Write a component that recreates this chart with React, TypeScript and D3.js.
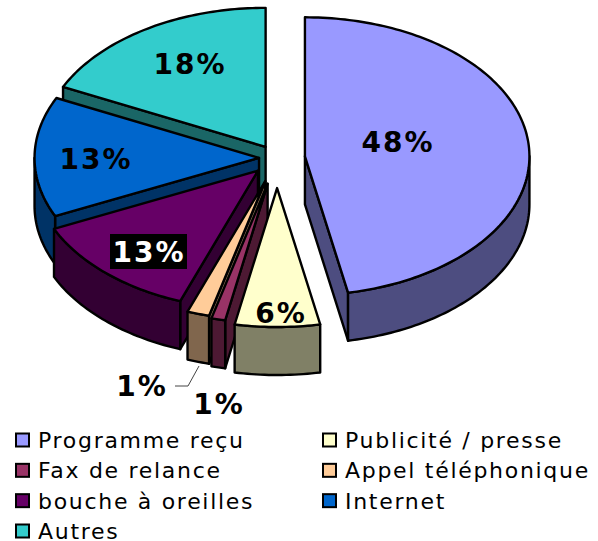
import React from "react";
import * as d3 from "d3";

const categories = ["Programme reçu", "Publicité / presse", "Fax de relance", "Appel téléphonique", "bouche à oreilles", "Internet", "Autres"];
const values = [46.9, 6.1, 1.0, 1.6, 12.5, 13.95, 17.9];
const shownLabels = ["48%", "6%", "1%", "1%", "13%", "13%", "18%"];
const topColors = ["#9999FF", "#FFFFCC", "#993366", "#FFCC99", "#660066", "#0066CC", "#33CCCC"];
const sideColors = ["#4D4D80", "#808066", "#4D1933", "#80664D", "#330033", "#003366", "#1A6666"];
const explode = [0.125, 0.216, 0.19, 0.175, 0.125, 0.08, 0.095];
const drawOrder = [6, 5, 4, 3, 2, 1, 0];
const labelPos: [number, number][] = [[398, 142], [281, 313], [219, 404], [142, 386], [149, 252], [96, 159], [190, 64]];

const W = 598, H = 541;
const cx = 277, cy = 158, rx = 224.5, ry = 139, depth = 48;
const TAU = Math.PI * 2;
const FONT = "'DejaVu Sans', Verdana, sans-serif";

type Pt = [number, number];
const lineGen = d3.line<Pt>().x(d => d[0]).y(d => d[1]);

function samples(a0: number, a1: number): number[] {
  const n = Math.max(2, Math.ceil(Math.abs(a1 - a0) / 0.02));
  return d3.range(n + 1).map(i => a0 + ((a1 - a0) * i) / n);
}

export default function App() {
  const arcs = d3.pie<number>().sort(null).value(d => d)(values);

  const slices = arcs.map((a, i) => {
    const mid = (a.startAngle + a.endAngle) / 2;
    const ax = cx + explode[i] * rx * Math.sin(mid);
    const ay = cy - explode[i] * ry * Math.cos(mid);
    const p = (t: number, dz = 0): Pt => [ax + rx * Math.sin(t), ay - ry * Math.cos(t) + dz];
    const apex: Pt = [ax, ay];
    const apexLow: Pt = [ax, ay + depth];
    const top = [apex, ...samples(a.startAngle, a.endAngle).map(t => p(t))];
    const walls: string[] = [];
    if (a.startAngle > Math.PI && a.startAngle < TAU) {
      walls.push(lineGen([apex, p(a.startAngle), p(a.startAngle, depth), apexLow])! + "Z");
    }
    if (a.endAngle > 0 && a.endAngle < Math.PI) {
      walls.push(lineGen([apex, p(a.endAngle), p(a.endAngle, depth), apexLow])! + "Z");
    }
    const o0 = Math.max(a.startAngle, Math.PI / 2);
    const o1 = Math.min(a.endAngle, (3 * Math.PI) / 2);
    if (o1 > o0) {
      const s = samples(o0, o1);
      walls.push(lineGen([...s.map(t => p(t)), ...s.slice().reverse().map(t => p(t, depth))])! + "Z");
    }
    return { i, walls, top: lineGen(top)! + "Z" };
  });

  const legendX = d3.scaleOrdinal<number, number>().domain([0, 1]).range([16, 323]);
  const legendY = d3.scaleLinear().domain([0, 3]).range([440, 531]);

  return (
    <svg width={W} height={H} style={{ position: "absolute", left: 0, top: 0, background: "#fff" }} fontFamily={FONT}>
      {drawOrder.map(k => {
        const s = slices[k];
        return (
          <g key={k} stroke="#000" strokeWidth={2.4} strokeLinejoin="round">
            {s.walls.map((d, j) => <path key={j} d={d} fill={sideColors[k]} />)}
            <path d={s.top} fill={topColors[k]} />
          </g>
        );
      })}
      <polyline points="199,366 188,386 175,386" fill="none" stroke="#444" strokeWidth={1} />
      <rect x={110} y={234} width={77} height={35} fill="#000" />
      {shownLabels.map((t, i) => (
        <text key={i} x={labelPos[i][0]} y={labelPos[i][1]} textAnchor="middle" dominantBaseline="central"
          fontSize={28} letterSpacing={2} fontWeight="bold" fill={i === 4 ? "#fff" : "#000"}>{t}</text>
      ))}
      {categories.map((c, i) => {
        const col = i === 6 ? 0 : i % 2;
        const row = Math.floor(i / 2);
        const x = legendX(col), y = legendY(row);
        return (
          <g key={c}>
            <rect x={x} y={y - 6.5} width={13} height={13} fill={topColors[i]} stroke="#000" strokeWidth={2} />
            <text x={x + 22} y={y + 8} fontSize={22} letterSpacing={1.7} fill="#000">{c}</text>
          </g>
        );
      })}
    </svg>
  );
}
